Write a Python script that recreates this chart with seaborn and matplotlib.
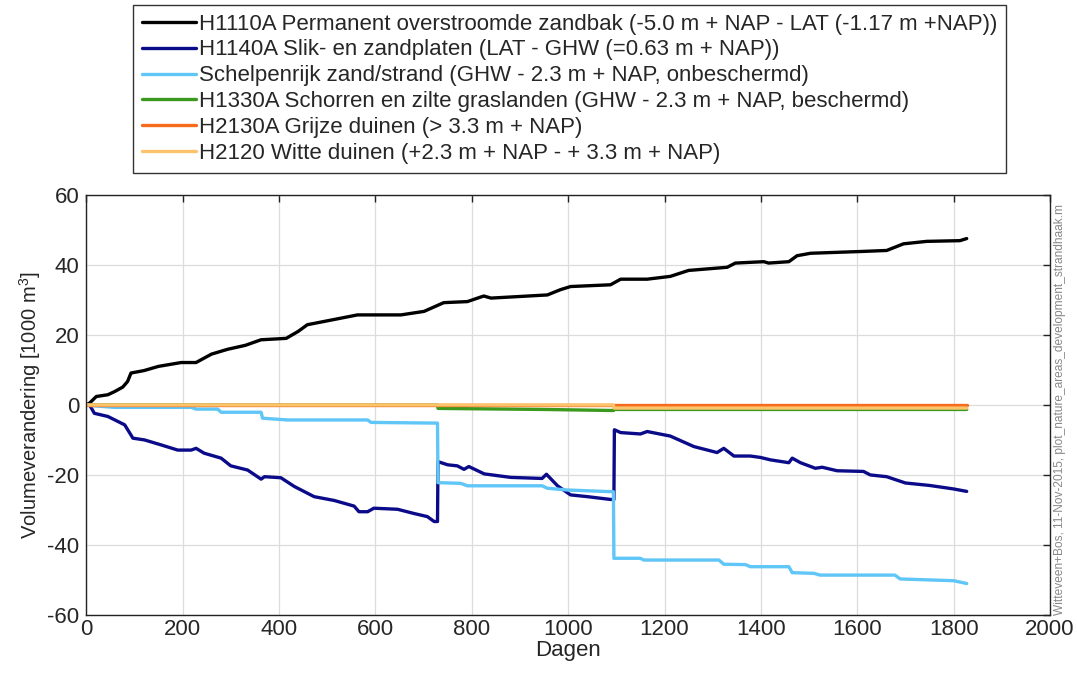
import numpy as np
import pandas as pd
import matplotlib
matplotlib.use('Agg')
import matplotlib.pyplot as plt
import seaborn as sns

# 시리즈별 데이터 (dagen, volumeverandering in 1000 m3)
names = ['H1110A Permanent overstroomde zandbak (-5.0 m + NAP - LAT (-1.17 m +NAP))',
         'H1140A Slik- en zandplaten (LAT - GHW (=0.63 m + NAP))',
         'Schelpenrijk zand/strand (GHW - 2.3 m + NAP, onbeschermd)',
         'H1330A Schorren en zilte graslanden (GHW - 2.3 m + NAP, beschermd)',
         'H2130A Grijze duinen (> 3.3 m + NAP)',
         'H2120 Witte duinen (+2.3 m + NAP - + 3.3 m + NAP)']
colors = ['#000000', '#0b0b8a', '#5fc6f7', '#3b9a1e', '#f76b1c', '#fbc46c']

h1110_days = [0, 7, 21, 45, 59, 76, 86, 93, 120, 150,
              197, 228, 260, 294, 330, 363, 415, 440, 459, 500,
              563, 653, 701, 742, 791, 825, 840, 957, 984, 1005,
              1088, 1109, 1164, 1212, 1250, 1330, 1347, 1406, 1416, 1458,
              1475, 1503, 1606, 1661, 1696, 1744, 1813, 1827]
h1110_vol = [0, 0.5, 2.4, 2.9, 3.8, 5.1, 6.7, 9.1, 9.8, 11,
             12.1, 12.1, 14.5, 15.9, 17, 18.6, 19, 21, 22.9, 24,
             25.7, 25.7, 26.7, 29.2, 29.5, 31.1, 30.5, 31.4, 32.9, 33.8,
             34.3, 35.9, 35.9, 36.7, 38.4, 39.3, 40.5, 40.9, 40.5, 40.9,
             42.6, 43.3, 43.8, 44.1, 46, 46.7, 46.9, 47.5]

h1140_days = [0, 7, 17, 45, 80, 97, 121, 155, 190, 218,
              228, 245, 280, 300, 335, 363, 370, 404, 432, 473,
              515, 556, 566, 584, 597, 646, 680, 708, 722, 729,
              730, 750, 770, 784, 794, 826, 881, 946, 955, 978,
              1005, 1040, 1088, 1095, 1096, 1109, 1150, 1164, 1212, 1261,
              1309, 1323, 1344, 1378, 1399, 1420, 1458, 1465, 1482, 1513,
              1527, 1558, 1613, 1627, 1661, 1676, 1700, 1750, 1800, 1827]
h1140_vol = [0, 0, -2.4, -3.3, -5.7, -9.5, -10, -11.4, -12.9, -12.9,
             -12.4, -13.8, -15.2, -17.4, -18.6, -21.2, -20.5, -20.8, -23.3, -26.2,
             -27.3, -28.9, -30.5, -30.5, -29.5, -29.8, -31, -31.9, -33.3, -33.3,
             -16.2, -17.1, -17.4, -18.4, -17.6, -19.7, -20.7, -21, -19.8, -23.1,
             -25.7, -26.2, -27, -27, -7.1, -7.9, -8.3, -7.6, -8.9, -11.9,
             -13.6, -12.4, -14.6, -14.6, -15, -15.7, -16.5, -15.2, -16.5, -18.1,
             -17.8, -18.8, -19, -20, -20.5, -21.2, -22.3, -23, -24, -24.7]

schelp_days = [0, 20, 59, 218, 228, 273, 280, 363, 366, 418,
               584, 591, 729, 730, 777, 791, 946, 957, 998, 1094,
               1095, 1150, 1157, 1313, 1323, 1368, 1378, 1458, 1465, 1510,
               1523, 1678, 1689, 1800, 1827]
schelp_vol = [0, -0.3, -0.7, -0.7, -1.2, -1.2, -2.1, -2.1, -3.8, -4.3,
              -4.3, -5, -5.2, -22.2, -22.4, -23.1, -23.1, -23.8, -24.3, -24.8,
              -43.8, -43.8, -44.3, -44.3, -45.5, -45.6, -46.2, -46.2, -47.9, -48.1,
              -48.6, -48.6, -49.7, -50.2, -51]

h1330_days = [0, 729, 730, 950, 1094, 1095, 1827]
h1330_vol = [0, 0, -1.0, -1.3, -1.6, -1.3, -1.3]

h2130_days = [0, 1827]
h2130_vol = [0, 0]

h2120_days = [0, 1094, 1095, 1827]
h2120_vol = [0, 0, -0.9, -0.9]

series = [(h1110_days, h1110_vol), (h1140_days, h1140_vol), (schelp_days, schelp_vol),
          (h1330_days, h1330_vol), (h2130_days, h2130_vol), (h2120_days, h2120_vol)]

sns.set_theme(style='whitegrid')
plt.rcParams['font.family'] = ['Liberation Sans', 'DejaVu Sans']
plt.rcParams['mathtext.fontset'] = 'custom'
plt.rcParams['mathtext.rm'] = 'Liberation Sans'
plt.rcParams['axes.unicode_minus'] = False

fig = plt.figure(figsize=(10.77, 6.74), dpi=100)
ax = fig.add_axes([0.080, 0.0875, 0.895, 0.6235])

for name, col, (d, v) in zip(names, colors, series):
    df = pd.DataFrame({'Dagen': d, 'Volume': v})
    sns.lineplot(data=df, x='Dagen', y='Volume', ax=ax, color=col, lw=2.4,
                 label=name, sort=False, estimator=None)

ax.set_xlim(0, 2000)
ax.set_ylim(-60, 60)
ax.set_xticks(np.arange(0, 2001, 200))
ax.set_yticks(np.arange(-60, 61, 20))
ax.grid(True, color='#dcdcdc', lw=0.9)
ax.set_facecolor('white')
for s in ax.spines.values():
    s.set_color('#222222')
    s.set_linewidth(1.0)
ax.tick_params(direction='in', length=5, width=1, color='#222222',
               top=True, right=True, labelsize=16, pad=3)
ax.tick_params(axis='y', pad=5)
ax.set_xlabel('Dagen', fontsize=16, labelpad=0)
ax.set_ylabel('Volumeverandering [1000 m$^3$]', fontsize=14.5, labelpad=3)

ax.get_legend().remove()
h, l = ax.get_legend_handles_labels()
leg = fig.legend(h, l, loc='upper center', bbox_to_anchor=(0.529, 0.993),
                 fontsize=16, frameon=True, fancybox=False, framealpha=1,
                 handlelength=2.4, handletextpad=0.15, labelspacing=0.22,
                 borderpad=0.4, borderaxespad=0)
leg.get_frame().set_edgecolor('#333333')
leg.get_frame().set_linewidth(1.0)

ax.text(1.004, 0.0, 'Witteveen+Bos, 11-Nov-2015, plot_nature_areas_development_strandhaak.m',
        transform=ax.transAxes, rotation=90, ha='left', va='bottom',
        fontsize=8.6, color='#888888')

fig.savefig('out.png', dpi=100)
